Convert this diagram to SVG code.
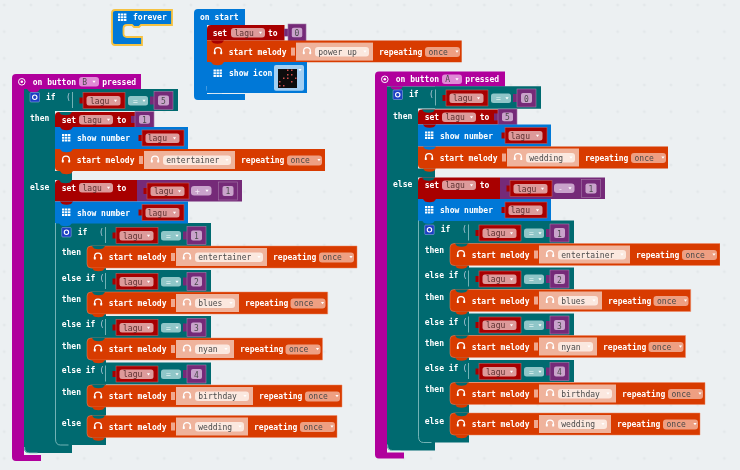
<svg xmlns="http://www.w3.org/2000/svg" width="740" height="470" viewBox="0 0 740 470">
<style>
text{font-family:"DejaVu Sans Mono","Liberation Mono",monospace;font-size:8px}
.w{fill:#fff;font-weight:bold}
.d{fill:#4a4a4a}
.dr{fill:#5c3030}
.hat{fill:#b0009c}.tl{fill:#006a70}.rd{fill:#a80000}.bl{fill:#0078d7}.m{fill:#d83b01}.pu{fill:#742a78}
.pl{fill:none;stroke:#8fc5c7;stroke-width:.8}
.mf{fill:#efb39c}.mp{fill:#fbe8df}.mo{fill:#ee9f82}.nt{fill:#f0a88e}
.rf{fill:#dd9a9a}.pp{fill:#c9a3cb}.hf{fill:#e08ad6}
.hpa{fill:none;stroke:#fff;stroke-width:1.200}.hpe{fill:#fff}
</style>
<defs>
<filter id="soft" x="0" y="0" width="100%" height="100%"><feGaussianBlur stdDeviation="0.4"/></filter>
<pattern id="dots" width="26.67" height="26.67" patternUnits="userSpaceOnUse" x="4.3" y="5">
<path d="M-1.5 0h3M0-1.5v3M25.17 0h3M26.67-1.5v3M-1.5 26.67h3M0 25.17v3M25.17 26.67h3M26.67 25.17v3" stroke="#dde1e4" stroke-width=".7"/>
</pattern>
<path id="tri" d="M-1.6-1h3.2L0 1.2z" fill="#fff"/>
<path id="nb" d="M0 0h13l-2 2.4q-4.500 1.500-9 0z"/>
<path id="grid" fill="#fff" d="M0 0h2.400v2H0zM3 0h2.400v2H3zM6 0h2.400v2H6zM0 2.800h2.400v2H0zM3 2.800h2.400v2H3zM6 2.800h2.400v2H6zM0 5.600h2.400v2H0zM3 5.600h2.400v2H3zM6 5.600h2.400v2H6z"/>
<g id="hp"><path class="hpa" d="M-3.400 1.500V.5a3.400 3.400 0 0 1 6.800 0v1"/><rect class="hpe" x="-4.200" y=".8" width="2" height="2.800" rx=".6"/><rect class="hpe" x="2.200" y=".8" width="2" height="2.800" rx=".6"/></g>
<g id="lagu-r">
<path class="rd" d="M-3.500 5h3.500v6h-3.500z"/>
<rect class="rd" width="42" height="16" stroke="#c05a5a" stroke-width=".6"/>
<rect class="rf" x="3.500" y="3.500" width="34" height="9.500" rx="2.500"/>
<use href="#tri" x="32.500" y="8.200"/>
</g>
<g id="num-r">
<path class="pu" d="M-4 5h4v8h-4z"/>
<rect class="pu" width="19" height="18" stroke="#a77aa9" stroke-width=".6"/>
<rect class="pp" x="4" y="4" width="11" height="10" rx="2"/>
</g>
<g id="cond">
<rect class="tl" width="106" height="22"/>
<path class="pl" d="M.5 3v16"/>
<use href="#lagu-r" x="11" y="3.500"/>
<rect fill="#8fc6c8" x="56" y="7" width="20" height="9.500" rx="2.500"/>
<use href="#tri" x="72" y="11.700"/>
<use href="#num-r" x="82" y="2.500"/>
</g>
<g id="gear">
<rect width="9.500" height="9.500" rx="1" fill="#1f3fc4" stroke="#9fb4ea" stroke-width=".5"/>
<circle cx="4.750" cy="4.750" r="2.200" fill="none" stroke="#fff" stroke-width="1.100"/>
</g>
<g id="set-field">
<rect class="rf" x="24" y="3" width="34" height="9.500" rx="3"/>
<use href="#tri" x="53.500" y="7.700"/>
</g>
<g id="show-bg">
<rect class="bl" width="133" height="22"/>
<use href="#grid" x="7" y="7" />
<use href="#lagu-r" x="87" y="3"/>
</g>
<g id="hat-ic">
<circle r="3.300" fill="none" stroke="#fff" stroke-width="1"/><circle r="1.300" fill="#fff"/>
</g>
</defs>
<rect width="740" height="470" fill="#ecf0f2"/>
<rect width="740" height="470" fill="url(#dots)"/>
<g filter="url(#soft)">
<g id="forever">
<path class="bl" stroke="#f5c242" stroke-width="1.800" d="M115 10H172V25H141l-2 2h-5l-2-2H127q-3.500 0-3.500 3.500V33.500q0 3.500 3.500 3.500H142V45H115q-3 0-3-3V13q0-3 3-3z"/>
<use href="#grid" x="118" y="13.500"/>
<text class="w" x="133" y="20">forever</text>
</g>
<g id="on-start">
<path class="bl" d="M198 9H245V25H207V94H245V100H198q-4 0-4-4V13q0-4 4-4z"/>
<path fill="none" stroke="#a9d0f0" stroke-width=".8" d="M207 86v3q0 4 5 4h10"/>
<text class="w" x="200" y="20">on start</text>
<g transform="translate(207,25)">
<path class="rd" d="M4 0H77.500V15.500H0V4Q0 0 4 0Z"/>
<text class="w" x="5.700" y="10.500">set</text>
<use href="#set-field"/>
<text class="dr" x="27.500" y="10.500">lagu</text>
<text class="w" x="61" y="10.500">to</text>
<use href="#num-r" transform="translate(81,-1) scale(.95)"/>
<text class="d" text-anchor="middle" x="90" y="10.500">0</text>
</g>
<g transform="translate(207,40.600)">
<path class="m" d="M0 0H254.700V21.600H0Z"/>
<use href="#nb" x="4" fill="#a80000"/>
<use href="#hp" x="11" y="10"/>
<text class="w" x="21.700" y="14">start melody</text>
<rect class="nt" x="84" y="7" width="4" height="8"/>
<rect class="mf" x="89" y="2" width="77" height="18"/>
<use href="#hp" x="100" y="10"/>
<rect class="mp" x="108" y="6.500" width="54" height="9.500" rx="3"/>
<text class="d" x="111.300" y="14">power up</text>
<use href="#tri" x="158" y="11"/>
<text class="w" x="172" y="14">repeating</text>
<rect class="mo" x="218" y="6.500" width="35" height="10" rx="3"/>
<text class="d" x="221.500" y="14">once</text>
<use href="#tri" x="250" y="11"/>
</g>
<g transform="translate(207,62)">
<rect class="bl" width="100" height="31"/>
<use href="#nb" x="4" y="0" fill="#d83b01"/>
<use href="#grid" x="6.500" y="7.500"/>
<text class="w" x="22" y="14">show icon</text>
<rect x="67" y="3" width="30" height="25.700" rx="2" fill="#a3cff2"/>
<rect x="71" y="7" width="19" height="19" fill="#0a0a0a"/>
<path fill="#d05050" d="M80 7.500h1.500v1.500H80zM84 7.500h1.500v1.500H84zM80 12h1.500v1.500H80zM84 12h1.500v1.500H84zM76 15.500h1.500v1.500H76zM80 15.500h1.500v1.500H80zM84 19h1.500v1.500H84zM72 19h1.500v1.500H72zM72 23h1.500v1.500H72zM76 23h1.500v1.500H76zM88 15.500h1.500v1.500H88z"/>
<use href="#tri" x="93" y="8"/>
</g>
</g>

<g id="on-button-b">
<path class="hat" d="M16 74H141V89H24V455H41V461H16q-4 0-4-4V78q0-4 4-4z"/>
<use href="#hat-ic" x="21.800" y="81.800"/>
<text class="w" x="32.700" y="84.500">on button</text>
<rect class="hf" x="79" y="77" width="20" height="9.500" rx="3"/>
<text class="d" x="82.300" y="84.500">B</text>
<use href="#tri" x="94" y="81.700"/>
<text class="w" x="102.300" y="84.500">pressed</text>
<g id="if-b">
<path class="tl" d="M24 89H178V111H55V171H72V180H55V223H211V246H106V445H72V453H29q-5 0-5-5Z"/>
<use href="#nb" x="27" y="89" fill="#b0009c"/>
<path class="pl" d="M24.500 447q0 6 5 6h8M72.500 91v18"/>
<use href="#gear" x="30" y="92.500"/>
<text class="w" x="46" y="99.500">if</text>
<text fill="#bcd" x="66" y="99.500">(</text>
<use href="#cond" x="72" y="89"/>
<text class="dr" x="90" y="103.700">lagu</text>
<text fill="#e4f3f3" x="133" y="103.500">=</text>
<text class="d" text-anchor="middle" x="163.500" y="104">5</text>
<text class="w" x="30" y="121">then</text>
<text class="w" x="30" y="189.500">else</text>
</g>
<g id="then-b">
<g transform="translate(55,112)">
<path class="rd" d="M4 0H99V15H0V4Q0 0 4 0Z"/>
<use href="#nb" x="4" fill="#006a70"/>
<use href="#set-field"/>
<text class="w" x="6.700" y="10.500">set</text>
<text class="dr" x="27.500" y="10.500">lagu</text>
<text class="w" x="61.700" y="10.500">to</text>
<use href="#num-r" transform="translate(80,-.5) scale(1,.88)"/>
<text class="d" text-anchor="middle" x="89.500" y="10.500">1</text>
</g>
<g transform="translate(55,127)">
<use href="#show-bg"/>
<use href="#nb" x="5" fill="#a80000"/>
<text class="w" x="22" y="14">show number</text>
<text class="dr" x="92.700" y="14">lagu</text>
</g>
<g transform="translate(55,149)">
<path class="m" d="M0 0H270V22H4Q0 22 0 18V0Z"/>
<use href="#nb" x="5" fill="#0078d7"/>
<use href="#nb" x="5" y="22" fill="#d83b01"/>
<use href="#hp" x="11" y="10"/>
<text class="w" x="21.700" y="14">start melody</text>
<rect class="nt" x="84" y="7" width="4" height="8"/>
<rect class="mf" x="89" y="2" width="91" height="18"/>
<use href="#hp" x="100" y="10"/>
<rect class="mp" x="108" y="6.500" width="68" height="9.500" rx="3"/>
<text class="d" x="111.300" y="14">entertainer</text>
<use href="#tri" x="172" y="11"/>
<text class="w" x="186" y="14">repeating</text>
<rect class="mo" x="232" y="6.500" width="35" height="10" rx="3"/>
<text class="d" x="235.500" y="14">once</text>
<use href="#tri" x="264" y="11"/>
</g>
</g>
<g id="else-b">
<g transform="translate(55,180)">
<path class="rd" d="M4 0H82V21.500H0V4Q0 0 4 0Z"/>
<use href="#nb" x="4" fill="#006a70"/>
<rect class="pu" x="82" width="105" height="21.500"/>
<use href="#set-field"/>
<text class="w" x="6.700" y="10.500">set</text>
<text class="dr" x="27.500" y="10.500">lagu</text>
<text class="w" x="61.700" y="10.500">to</text>
<use href="#lagu-r" x="92" y="3"/>
<text class="dr" x="99" y="14">lagu</text>
<rect class="pp" x="136" y="6" width="20.500" height="9.500" rx="3"/>
<text fill="#f4e6f4" x="140" y="14">+</text>
<use href="#tri" x="152" y="10.800"/>
<use href="#num-r" x="163.500" y="2"/>
<text class="d" text-anchor="middle" x="173" y="14">1</text>
</g>
<g transform="translate(55,201.500)">
<use href="#show-bg"/>
<use href="#nb" x="5" fill="#a80000"/>
<text class="w" x="22" y="14">show number</text>
<text class="dr" x="92.700" y="14">lagu</text>
</g>
<g id="nested-if-b">
<use href="#nb" x="59" y="223" fill="#0078d7"/>
<path class="pl" d="M55.500 223V439q0 6 5 6h8"/>
<use href="#gear" x="61.700" y="227.500"/>
<text class="w" x="77.700" y="234.500">if</text>
<text fill="#bcd" x="99" y="234.500">(</text>
<use href="#cond" x="105" y="224"/>
<text class="dr" x="123" y="238.700">lagu</text>
<text fill="#e4f3f3" x="166" y="238.500">=</text>
<text class="d" text-anchor="middle" x="196.500" y="239">1</text>
<text class="w" x="61.700" y="255">then</text>
<use href="#cond" x="105" y="270"/>
<text class="w" x="61.700" y="280.500">else if</text>
<text fill="#bcd" x="99.500" y="280.500">(</text>
<text class="dr" x="123" y="284.700">lagu</text>
<text fill="#e4f3f3" x="166" y="284.500">=</text>
<text class="d" text-anchor="middle" x="196.500" y="285">2</text>
<text class="w" x="61.700" y="302">then</text>
<use href="#cond" x="105" y="316"/>
<text class="w" x="61.700" y="327">else if</text>
<text fill="#bcd" x="99.500" y="327">(</text>
<text class="dr" x="123" y="330.700">lagu</text>
<text fill="#e4f3f3" x="166" y="330.500">=</text>
<text class="d" text-anchor="middle" x="196.500" y="331">3</text>
<text class="w" x="61.700" y="348.500">then</text>
<use href="#cond" x="105" y="362.500"/>
<text class="w" x="61.700" y="373">else if</text>
<text fill="#bcd" x="99.500" y="373">(</text>
<text class="dr" x="123" y="377.200">lagu</text>
<text fill="#e4f3f3" x="166" y="377">=</text>
<text class="d" text-anchor="middle" x="196.500" y="377.500">4</text>
<text class="w" x="61.700" y="394.500">then</text>
<text class="w" x="61.700" y="426">else</text>
<g transform="translate(87,246)">
<path class="m" stroke="#ee8a66" stroke-width=".5" d="M4 0H270V22H4Q0 22 0 18V4Q0 0 4 0Z"/>
<use href="#nb" x="5" fill="#006a70"/>
<use href="#nb" x="5" y="22" fill="#d83b01"/>
<use href="#hp" x="11" y="10"/>
<text class="w" x="21.700" y="14">start melody</text>
<rect class="nt" x="84" y="7" width="4" height="8"/>
<rect class="mf" x="89" y="2" width="91" height="18"/>
<use href="#hp" x="100" y="10"/>
<rect class="mp" x="108" y="6.500" width="68" height="9.500" rx="3"/>
<text class="d" x="111.300" y="14">entertainer</text>
<use href="#tri" x="172" y="11"/>
<text class="w" x="186" y="14">repeating</text>
<rect class="mo" x="232" y="6.500" width="35" height="10" rx="3"/>
<text class="d" x="235.500" y="14">once</text>
<use href="#tri" x="264" y="11"/>
</g>
<g transform="translate(87,292)">
<path class="m" stroke="#ee8a66" stroke-width=".5" d="M4 0H240.700V22H4Q0 22 0 18V4Q0 0 4 0Z"/>
<use href="#nb" x="5" fill="#006a70"/>
<use href="#nb" x="5" y="22" fill="#d83b01"/>
<use href="#hp" x="11" y="10"/>
<text class="w" x="21.700" y="14">start melody</text>
<rect class="nt" x="84" y="7" width="4" height="8"/>
<rect class="mf" x="89" y="2" width="63" height="18"/>
<use href="#hp" x="100" y="10"/>
<rect class="mp" x="108" y="6.500" width="40" height="9.500" rx="3"/>
<text class="d" x="111.300" y="14">blues</text>
<use href="#tri" x="144" y="11"/>
<text class="w" x="158" y="14">repeating</text>
<rect class="mo" x="203.500" y="6.500" width="35" height="10" rx="3"/>
<text class="d" x="207" y="14">once</text>
<use href="#tri" x="235.500" y="11"/>
</g>
<g transform="translate(87,338)">
<path class="m" stroke="#ee8a66" stroke-width=".5" d="M4 0H235.500V22H4Q0 22 0 18V4Q0 0 4 0Z"/>
<use href="#nb" x="5" fill="#006a70"/>
<use href="#nb" x="5" y="22" fill="#d83b01"/>
<use href="#hp" x="11" y="10"/>
<text class="w" x="21.700" y="14">start melody</text>
<rect class="nt" x="84" y="7" width="4" height="8"/>
<rect class="mf" x="89" y="2" width="58" height="18"/>
<use href="#hp" x="100" y="10"/>
<rect class="mp" x="108" y="6.500" width="35" height="9.500" rx="3"/>
<text class="d" x="111.300" y="14">nyan</text>
<use href="#tri" x="139" y="11"/>
<text class="w" x="153" y="14">repeating</text>
<rect class="mo" x="198.500" y="6.500" width="35" height="10" rx="3"/>
<text class="d" x="202" y="14">once</text>
<use href="#tri" x="230.500" y="11"/>
</g>
<g transform="translate(87,385)">
<path class="m" stroke="#ee8a66" stroke-width=".5" d="M4 0H255V22H4Q0 22 0 18V4Q0 0 4 0Z"/>
<use href="#nb" x="5" fill="#006a70"/>
<use href="#nb" x="5" y="22" fill="#d83b01"/>
<use href="#hp" x="11" y="10"/>
<text class="w" x="21.700" y="14">start melody</text>
<rect class="nt" x="84" y="7" width="4" height="8"/>
<rect class="mf" x="89" y="2" width="77" height="18"/>
<use href="#hp" x="100" y="10"/>
<rect class="mp" x="108" y="6.500" width="54" height="9.500" rx="3"/>
<text class="d" x="111.300" y="14">birthday</text>
<use href="#tri" x="158" y="11"/>
<text class="w" x="172" y="14">repeating</text>
<rect class="mo" x="218" y="6.500" width="35" height="10" rx="3"/>
<text class="d" x="221.500" y="14">once</text>
<use href="#tri" x="250" y="11"/>
</g>
<g transform="translate(87,415.500)">
<path class="m" stroke="#ee8a66" stroke-width=".5" d="M4 0H250V22H4Q0 22 0 18V4Q0 0 4 0Z"/>
<use href="#nb" x="5" fill="#006a70"/>
<use href="#nb" x="5" y="22" fill="#d83b01"/>
<use href="#hp" x="11" y="10"/>
<text class="w" x="21.700" y="14">start melody</text>
<rect class="nt" x="84" y="7" width="4" height="8"/>
<rect class="mf" x="89" y="2" width="72" height="18"/>
<use href="#hp" x="100" y="10"/>
<rect class="mp" x="108" y="6.500" width="49" height="9.500" rx="3"/>
<text class="d" x="111.300" y="14">wedding</text>
<use href="#tri" x="153" y="11"/>
<text class="w" x="167" y="14">repeating</text>
<rect class="mo" x="213" y="6.500" width="35" height="10" rx="3"/>
<text class="d" x="216.500" y="14">once</text>
<use href="#tri" x="245" y="11"/>
</g>
</g>
</g>
</g>

<g id="on-button-a" transform="translate(363,-2.500)">
<path class="hat" d="M16 74H142V89H24V455H41V461H16q-4 0-4-4V78q0-4 4-4z"/>
<use href="#hat-ic" x="21.800" y="81.800"/>
<text class="w" x="32.700" y="84.500">on button</text>
<rect class="hf" x="79" y="77" width="20" height="9.500" rx="3"/>
<text class="d" x="82.300" y="84.500">A</text>
<use href="#tri" x="94" y="81.700"/>
<text class="w" x="102.300" y="84.500">pressed</text>
<g id="if-a">
<path class="tl" d="M24 89H178V111H55V171H72V180H55V223H211V246H106V445H72V453H29q-5 0-5-5Z"/>
<use href="#nb" x="27" y="89" fill="#b0009c"/>
<path class="pl" d="M24.500 447q0 6 5 6h8M72.500 91v18"/>
<use href="#gear" x="30" y="92.500"/>
<text class="w" x="46" y="99.500">if</text>
<text fill="#bcd" x="66" y="99.500">(</text>
<use href="#cond" x="72" y="89"/>
<text class="dr" x="90" y="103.700">lagu</text>
<text fill="#e4f3f3" x="133" y="103.500">=</text>
<text class="d" text-anchor="middle" x="163.500" y="104">0</text>
<text class="w" x="30" y="121">then</text>
<text class="w" x="30" y="189.500">else</text>
</g>
<g id="then-a">
<g transform="translate(55,112)">
<path class="rd" d="M4 0H99V15H0V4Q0 0 4 0Z"/>
<use href="#nb" x="4" fill="#006a70"/>
<use href="#set-field"/>
<text class="w" x="6.700" y="10.500">set</text>
<text class="dr" x="27.500" y="10.500">lagu</text>
<text class="w" x="61.700" y="10.500">to</text>
<use href="#num-r" transform="translate(80,-.5) scale(1,.88)"/>
<text class="d" text-anchor="middle" x="89.500" y="10.500">5</text>
</g>
<g transform="translate(55,127)">
<use href="#show-bg"/>
<use href="#nb" x="5" fill="#a80000"/>
<text class="w" x="22" y="14">show number</text>
<text class="dr" x="92.700" y="14">lagu</text>
</g>
<g transform="translate(55,149)">
<path class="m" d="M0 0H250V22H4Q0 22 0 18V0Z"/>
<use href="#nb" x="5" fill="#0078d7"/>
<use href="#nb" x="5" y="22" fill="#d83b01"/>
<use href="#hp" x="11" y="10"/>
<text class="w" x="21.700" y="14">start melody</text>
<rect class="nt" x="84" y="7" width="4" height="8"/>
<rect class="mf" x="89" y="2" width="72" height="18"/>
<use href="#hp" x="100" y="10"/>
<rect class="mp" x="108" y="6.500" width="49" height="9.500" rx="3"/>
<text class="d" x="111.300" y="14">wedding</text>
<use href="#tri" x="153" y="11"/>
<text class="w" x="167" y="14">repeating</text>
<rect class="mo" x="213" y="6.500" width="35" height="10" rx="3"/>
<text class="d" x="216.500" y="14">once</text>
<use href="#tri" x="245" y="11"/>
</g>
</g>
<g id="else-a">
<g transform="translate(55,180)">
<path class="rd" d="M4 0H82V21.500H0V4Q0 0 4 0Z"/>
<use href="#nb" x="4" fill="#006a70"/>
<rect class="pu" x="82" width="105" height="21.500"/>
<use href="#set-field"/>
<text class="w" x="6.700" y="10.500">set</text>
<text class="dr" x="27.500" y="10.500">lagu</text>
<text class="w" x="61.700" y="10.500">to</text>
<use href="#lagu-r" x="92" y="3"/>
<text class="dr" x="99" y="14">lagu</text>
<rect class="pp" x="136" y="6" width="20.500" height="9.500" rx="3"/>
<text fill="#f4e6f4" x="140" y="14">-</text>
<use href="#tri" x="152" y="10.800"/>
<use href="#num-r" x="163.500" y="2"/>
<text class="d" text-anchor="middle" x="173" y="14">1</text>
</g>
<g transform="translate(55,201.500)">
<use href="#show-bg"/>
<use href="#nb" x="5" fill="#a80000"/>
<text class="w" x="22" y="14">show number</text>
<text class="dr" x="92.700" y="14">lagu</text>
</g>
<g id="nested-if-a">
<use href="#nb" x="59" y="223" fill="#0078d7"/>
<path class="pl" d="M55.500 223V439q0 6 5 6h8"/>
<use href="#gear" x="61.700" y="227.500"/>
<text class="w" x="77.700" y="234.500">if</text>
<text fill="#bcd" x="99" y="234.500">(</text>
<use href="#cond" x="105" y="224"/>
<text class="dr" x="123" y="238.700">lagu</text>
<text fill="#e4f3f3" x="166" y="238.500">=</text>
<text class="d" text-anchor="middle" x="196.500" y="239">1</text>
<text class="w" x="61.700" y="255">then</text>
<use href="#cond" x="105" y="270"/>
<text class="w" x="61.700" y="280.500">else if</text>
<text fill="#bcd" x="99.500" y="280.500">(</text>
<text class="dr" x="123" y="284.700">lagu</text>
<text fill="#e4f3f3" x="166" y="284.500">=</text>
<text class="d" text-anchor="middle" x="196.500" y="285">2</text>
<text class="w" x="61.700" y="302">then</text>
<use href="#cond" x="105" y="316"/>
<text class="w" x="61.700" y="327">else if</text>
<text fill="#bcd" x="99.500" y="327">(</text>
<text class="dr" x="123" y="330.700">lagu</text>
<text fill="#e4f3f3" x="166" y="330.500">=</text>
<text class="d" text-anchor="middle" x="196.500" y="331">3</text>
<text class="w" x="61.700" y="348.500">then</text>
<use href="#cond" x="105" y="362.500"/>
<text class="w" x="61.700" y="373">else if</text>
<text fill="#bcd" x="99.500" y="373">(</text>
<text class="dr" x="123" y="377.200">lagu</text>
<text fill="#e4f3f3" x="166" y="377">=</text>
<text class="d" text-anchor="middle" x="196.500" y="377.500">4</text>
<text class="w" x="61.700" y="394.500">then</text>
<text class="w" x="61.700" y="426">else</text>
<g transform="translate(87,246)">
<path class="m" stroke="#ee8a66" stroke-width=".5" d="M4 0H270V22H4Q0 22 0 18V4Q0 0 4 0Z"/>
<use href="#nb" x="5" fill="#006a70"/>
<use href="#nb" x="5" y="22" fill="#d83b01"/>
<use href="#hp" x="11" y="10"/>
<text class="w" x="21.700" y="14">start melody</text>
<rect class="nt" x="84" y="7" width="4" height="8"/>
<rect class="mf" x="89" y="2" width="91" height="18"/>
<use href="#hp" x="100" y="10"/>
<rect class="mp" x="108" y="6.500" width="68" height="9.500" rx="3"/>
<text class="d" x="111.300" y="14">entertainer</text>
<use href="#tri" x="172" y="11"/>
<text class="w" x="186" y="14">repeating</text>
<rect class="mo" x="232" y="6.500" width="35" height="10" rx="3"/>
<text class="d" x="235.500" y="14">once</text>
<use href="#tri" x="264" y="11"/>
</g>
<g transform="translate(87,292)">
<path class="m" stroke="#ee8a66" stroke-width=".5" d="M4 0H240.700V22H4Q0 22 0 18V4Q0 0 4 0Z"/>
<use href="#nb" x="5" fill="#006a70"/>
<use href="#nb" x="5" y="22" fill="#d83b01"/>
<use href="#hp" x="11" y="10"/>
<text class="w" x="21.700" y="14">start melody</text>
<rect class="nt" x="84" y="7" width="4" height="8"/>
<rect class="mf" x="89" y="2" width="63" height="18"/>
<use href="#hp" x="100" y="10"/>
<rect class="mp" x="108" y="6.500" width="40" height="9.500" rx="3"/>
<text class="d" x="111.300" y="14">blues</text>
<use href="#tri" x="144" y="11"/>
<text class="w" x="158" y="14">repeating</text>
<rect class="mo" x="203.500" y="6.500" width="35" height="10" rx="3"/>
<text class="d" x="207" y="14">once</text>
<use href="#tri" x="235.500" y="11"/>
</g>
<g transform="translate(87,338)">
<path class="m" stroke="#ee8a66" stroke-width=".5" d="M4 0H235.500V22H4Q0 22 0 18V4Q0 0 4 0Z"/>
<use href="#nb" x="5" fill="#006a70"/>
<use href="#nb" x="5" y="22" fill="#d83b01"/>
<use href="#hp" x="11" y="10"/>
<text class="w" x="21.700" y="14">start melody</text>
<rect class="nt" x="84" y="7" width="4" height="8"/>
<rect class="mf" x="89" y="2" width="58" height="18"/>
<use href="#hp" x="100" y="10"/>
<rect class="mp" x="108" y="6.500" width="35" height="9.500" rx="3"/>
<text class="d" x="111.300" y="14">nyan</text>
<use href="#tri" x="139" y="11"/>
<text class="w" x="153" y="14">repeating</text>
<rect class="mo" x="198.500" y="6.500" width="35" height="10" rx="3"/>
<text class="d" x="202" y="14">once</text>
<use href="#tri" x="230.500" y="11"/>
</g>
<g transform="translate(87,385)">
<path class="m" stroke="#ee8a66" stroke-width=".5" d="M4 0H255V22H4Q0 22 0 18V4Q0 0 4 0Z"/>
<use href="#nb" x="5" fill="#006a70"/>
<use href="#nb" x="5" y="22" fill="#d83b01"/>
<use href="#hp" x="11" y="10"/>
<text class="w" x="21.700" y="14">start melody</text>
<rect class="nt" x="84" y="7" width="4" height="8"/>
<rect class="mf" x="89" y="2" width="77" height="18"/>
<use href="#hp" x="100" y="10"/>
<rect class="mp" x="108" y="6.500" width="54" height="9.500" rx="3"/>
<text class="d" x="111.300" y="14">birthday</text>
<use href="#tri" x="158" y="11"/>
<text class="w" x="172" y="14">repeating</text>
<rect class="mo" x="218" y="6.500" width="35" height="10" rx="3"/>
<text class="d" x="221.500" y="14">once</text>
<use href="#tri" x="250" y="11"/>
</g>
<g transform="translate(87,415.500)">
<path class="m" stroke="#ee8a66" stroke-width=".5" d="M4 0H250V22H4Q0 22 0 18V4Q0 0 4 0Z"/>
<use href="#nb" x="5" fill="#006a70"/>
<use href="#nb" x="5" y="22" fill="#d83b01"/>
<use href="#hp" x="11" y="10"/>
<text class="w" x="21.700" y="14">start melody</text>
<rect class="nt" x="84" y="7" width="4" height="8"/>
<rect class="mf" x="89" y="2" width="72" height="18"/>
<use href="#hp" x="100" y="10"/>
<rect class="mp" x="108" y="6.500" width="49" height="9.500" rx="3"/>
<text class="d" x="111.300" y="14">wedding</text>
<use href="#tri" x="153" y="11"/>
<text class="w" x="167" y="14">repeating</text>
<rect class="mo" x="213" y="6.500" width="35" height="10" rx="3"/>
<text class="d" x="216.500" y="14">once</text>
<use href="#tri" x="245" y="11"/>
</g>
</g>
</g>
</g>
</g>
</svg>
